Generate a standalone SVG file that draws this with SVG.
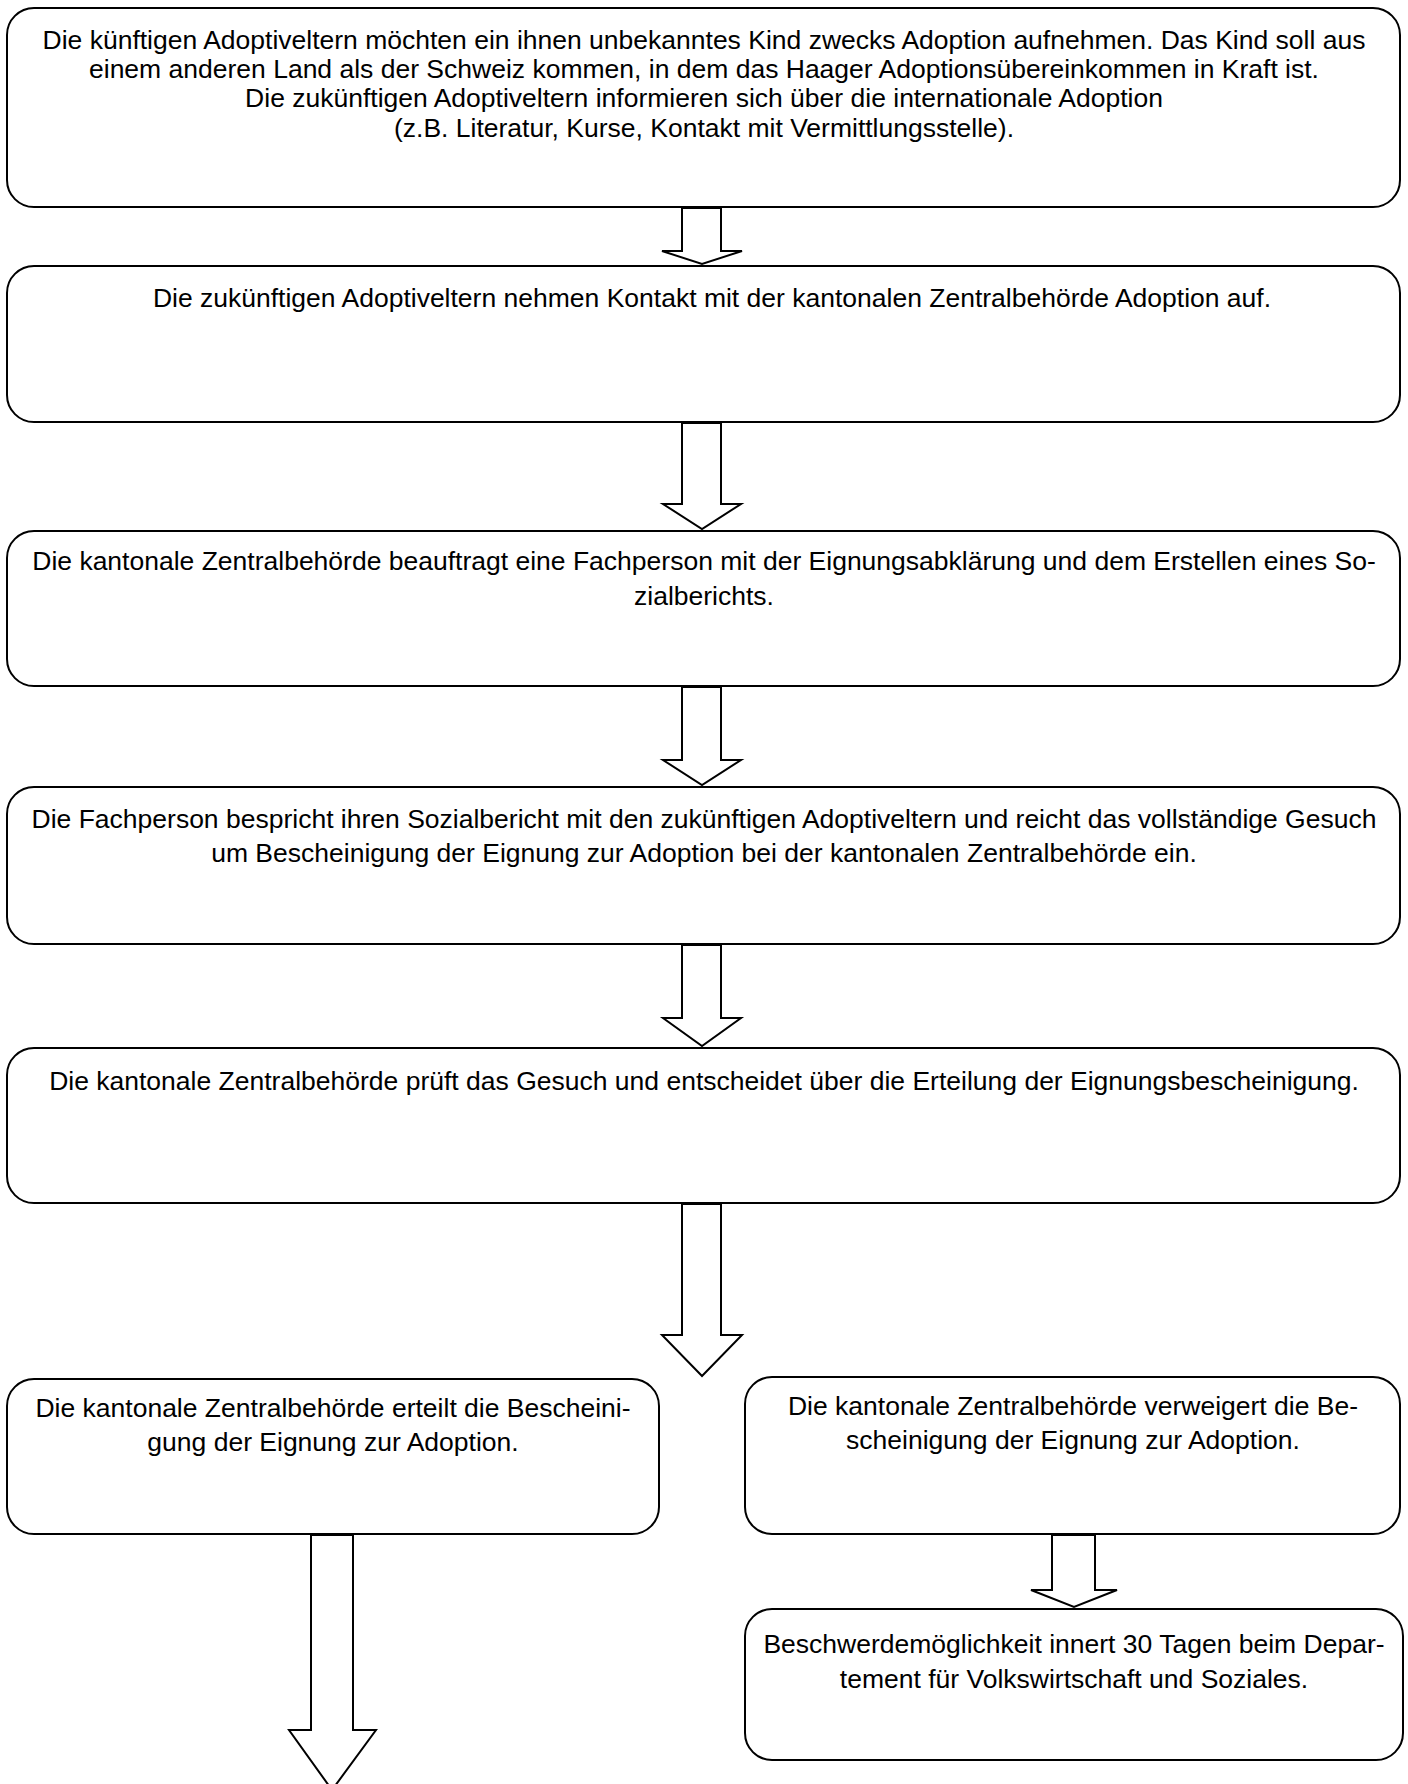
<svg xmlns="http://www.w3.org/2000/svg" width="1408" height="1784" viewBox="0 0 1408 1784">
<style>
.box{fill:#fff;stroke:#000;stroke-width:2}
.arr{fill:#fff;stroke:#000;stroke-width:2;stroke-linejoin:miter}
text{font-family:"Liberation Sans",Arial,sans-serif;font-size:26.5px;fill:#000;text-anchor:middle}
</style>
<rect width="1408" height="1784" fill="#fff"/>
<g id="connectors">
<polygon class="arr" points="682,208 721,208 721,251 742,251 702,264 662,251 682,251"/>
<polygon class="arr" points="682,423 721,423 721,504 741,504 702,529 663,504 682,504"/>
<polygon class="arr" points="682,687 721,687 721,760 741,760 702,785 663,760 682,760"/>
<polygon class="arr" points="682,945 721,945 721,1018 741,1018 702,1046 663,1018 682,1018"/>
<polygon class="arr" points="682,1204 721,1204 721,1335 742,1335 702,1376 662,1335 682,1335"/>
<polygon class="arr" points="311,1535 353,1535 353,1730 376,1730 332,1790 289,1730 311,1730"/>
<polygon class="arr" points="1052,1535 1095,1535 1095,1590 1117,1590 1074,1607 1031,1590 1052,1590"/>
</g>
<g id="n1"><rect class="box" x="7" y="8" width="1393" height="199" rx="27"/>
<text x="704" y="49">Die künftigen Adoptiveltern möchten ein ihnen unbekanntes Kind zwecks Adoption aufnehmen. Das Kind soll aus</text>
<text x="704" y="78">einem anderen Land als der Schweiz kommen, in dem das Haager Adoptionsübereinkommen in Kraft ist.</text>
<text x="704" y="107">Die zukünftigen Adoptiveltern informieren sich über die internationale Adoption</text>
<text x="704" y="137">(z.B. Literatur, Kurse, Kontakt mit Vermittlungsstelle).</text></g>
<g id="n2"><rect class="box" x="7" y="266" width="1393" height="156" rx="27"/>
<text x="712" y="307">Die zukünftigen Adoptiveltern nehmen Kontakt mit der kantonalen Zentralbehörde Adoption auf.</text></g>
<g id="n3"><rect class="box" x="7" y="531" width="1393" height="155" rx="27"/>
<text x="704" y="570">Die kantonale Zentralbehörde beauftragt eine Fachperson mit der Eignungsabklärung und dem Erstellen eines So-</text>
<text x="704" y="605">zialberichts.</text></g>
<g id="n4"><rect class="box" x="7" y="787" width="1393" height="157" rx="27"/>
<text x="704" y="828">Die Fachperson bespricht ihren Sozialbericht mit den zukünftigen Adoptiveltern und reicht das vollständige Gesuch</text>
<text x="704" y="862">um Bescheinigung der Eignung zur Adoption bei der kantonalen Zentralbehörde ein.</text></g>
<g id="n5"><rect class="box" x="7" y="1048" width="1393" height="155" rx="27"/>
<text x="704" y="1090">Die kantonale Zentralbehörde prüft das Gesuch und entscheidet über die Erteilung der Eignungsbescheinigung.</text></g>
<g id="n6"><rect class="box" x="7" y="1379" width="652" height="155" rx="27"/>
<text x="333" y="1417">Die kantonale Zentralbehörde erteilt die Bescheini-</text>
<text x="333" y="1451">gung der Eignung zur Adoption.</text></g>
<g id="n7"><rect class="box" x="745" y="1377" width="655" height="157" rx="27"/>
<text x="1073" y="1415">Die kantonale Zentralbehörde verweigert die Be-</text>
<text x="1073" y="1449">scheinigung der Eignung zur Adoption.</text></g>
<g id="n8"><rect class="box" x="745" y="1609" width="658" height="151" rx="27"/>
<text x="1074" y="1653">Beschwerdemöglichkeit innert 30 Tagen beim Depar-</text>
<text x="1074" y="1688">tement für Volkswirtschaft und Soziales.</text></g>
</svg>
